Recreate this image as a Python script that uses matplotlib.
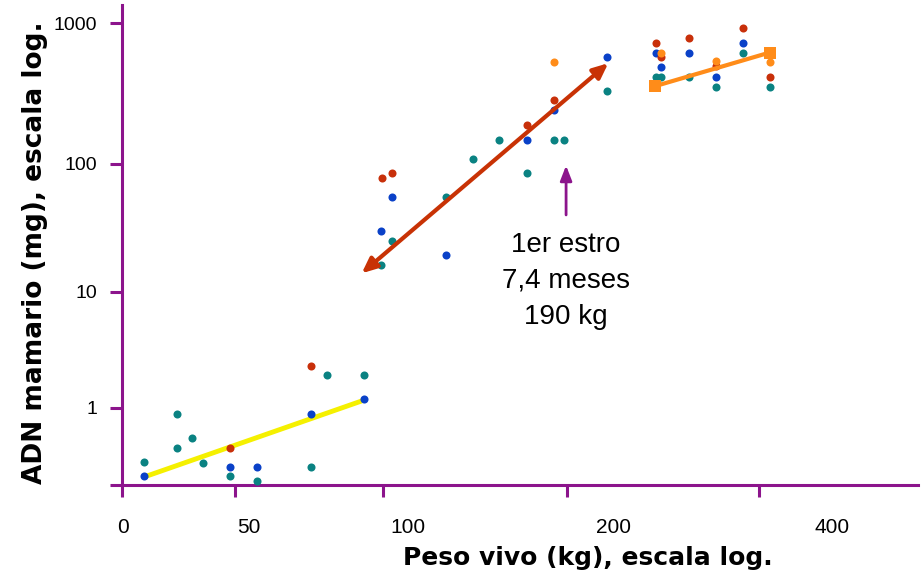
import numpy as np
import matplotlib
matplotlib.use("Agg")
import matplotlib.pyplot as plt
from matplotlib.ticker import NullLocator

# data: peso vivo (kg) vs ADN mamario (mg)
red_x = [47.8, 75.6, 99.5, 104.7, 178.1, 193.1, 293, 298, 327, 355, 383, 411]
red_y = [0.455, 2.32, 77.7, 84.6, 188, 284, 725, 571, 789, 498, 922, 416]

blue_x = [9.7, 47.8, 57.3, 75.6, 93.7, 99.3, 104.9, 134.2, 178.1, 193.1,
          242, 293, 298, 327, 355, 383]
blue_y = [0.259, 0.312, 0.312, 0.887, 1.19, 30, 55, 19.5, 148, 242,
          571, 617, 485, 617, 416, 725]

teal_x = [9.7, 24.2, 24.2, 31.1, 35.7, 47.8, 57.3, 75.6, 81, 93.7, 99.3, 104.9,
          134.2, 148.9, 163.2, 178.1, 193.1, 198.5, 242, 293, 298, 327, 355, 383, 411]
teal_y = [0.344, 0.887, 0.455, 0.548, 0.338, 0.259, 0.233, 0.312, 1.91, 1.91, 16.3, 25.2,
          55.6, 109, 148, 84.6, 148, 148, 330, 416, 416, 416, 353, 617, 353]

orange_x = [193.1, 298, 355, 411]
orange_y = [532, 617, 538, 532]

# trend lines
yellow_x = [10.2, 92.8]
yellow_y = [0.256, 1.15]
redline_x = [92.8, 243]
redline_y = [14.0, 519]
orangeline_x = [292, 411]
orangeline_y = [357, 617]

# first oestrus marker
estro_x = 199.5
estro_y = [40, 97.3]
estro_text = "1er estro\n7,4 meses\n190 kg"

x_ticks = [0, 50, 100, 200, 400]
x_labels = ["0", "50", "100", "200", "400"]
x_label_pos = [0.4, 54.7, 113.5, 248, 476]   # labels sit off the ticks in the original
y_ticks = [1, 10, 100, 1000]
y_labels = ["1", "10", "100", "1000"]

# hand drawn "log" axes: piecewise mapping
x_ref = [0, 50, 100, 200, 400, 800]
x_px = [0, 113, 261, 445, 637, 1021]
y_dec = [-2, 0, 1, 2, 3, 4]
y_px = [-155, 77, 193, 321, 462, 603]


def fx(x):
    return np.interp(x, x_ref, x_px)


def fx_inv(p):
    return np.interp(p, x_px, x_ref)


def fy(y):
    return np.interp(np.log10(np.clip(y, 1e-9, None)), y_dec, y_px)


def fy_inv(p):
    return 10 ** np.interp(p, y_px, y_dec)


purple = "#8c148c"
c_red = "#c8300a"
c_blue = "#0a41c8"
c_teal = "#0a8282"
c_orange = "#ff8c19"

fig = plt.figure(figsize=(9.21, 5.75), dpi=100)
ax = fig.add_axes([122 / 921, 90 / 575, 796 / 921, 480 / 575])

ax.set_xscale("function", functions=(fx, fx_inv))
ax.set_yscale("function", functions=(fy, fy_inv))
ax.set_xlim(0, fx_inv(796))
y_lo = float(fy_inv(0))
ax.set_ylim(y_lo, float(fy_inv(480)))

# points
ms = 5.8
ax.plot(yellow_x, yellow_y, color="#f5f000", lw=3.5, zorder=2, solid_capstyle="butt")
ax.plot(teal_x, teal_y, "o", ms=ms, mew=0, color=c_teal, zorder=3, clip_on=False)
ax.plot(blue_x, blue_y, "o", ms=ms, mew=0, color=c_blue, zorder=3, clip_on=False)
ax.plot(red_x, red_y, "o", ms=ms, mew=0, color=c_red, zorder=3, clip_on=False)
ax.plot(orange_x, orange_y, "o", ms=ms, mew=0, color=c_orange, zorder=3, clip_on=False)

# red arrow line, double headed
ax.annotate("", xy=(redline_x[1], redline_y[1]), xytext=(redline_x[0], redline_y[0]),
            arrowprops=dict(arrowstyle="<|-|>,head_length=0.9,head_width=0.4",
                            color="#c83205", lw=3, shrinkA=0, shrinkB=0),
            zorder=4)

# orange line with squares
ax.plot(orangeline_x, orangeline_y, "-s", color=c_orange, lw=3, ms=8, mew=0, zorder=4)

# purple arrow + text
ax.annotate("", xy=(estro_x, estro_y[1]), xytext=(estro_x, estro_y[0]),
            arrowprops=dict(arrowstyle="-|>,head_length=0.9,head_width=0.35",
                            color=purple, lw=2, shrinkA=0, shrinkB=0))
ax.text(estro_x, 12.2, estro_text, ha="center", va="center", fontsize=20,
        family="Liberation Sans", linespacing=1.5)

# axes style
ax.spines[["top", "right"]].set_visible(False)
for s in ["left", "bottom"]:
    ax.spines[s].set_color(purple)
    ax.spines[s].set_linewidth(2.2)

ax.set_xticks(x_ticks, labels=[""] * len(x_ticks))
ax.set_xticks(x_label_pos, labels=x_labels, minor=True)
ax.set_yticks([y_lo] + y_ticks, labels=[""] + y_labels)
ax.yaxis.set_minor_locator(NullLocator())

ax.tick_params(which="major", direction="out", length=8.6, width=2.2, color=purple)
ax.tick_params(axis="x", which="minor", length=0, pad=24, labelsize=15)
ax.tick_params(axis="y", pad=9.4, labelsize=14)
for lab in ax.get_xticklabels(minor=True) + ax.get_yticklabels():
    lab.set_family("Liberation Sans")

fig.text(588 / 921, 1 - 558 / 575, "Peso vivo (kg), escala log.", ha="center", va="center",
         fontsize=18, fontweight="bold", family="DejaVu Sans")
fig.text(35 / 921, 1 - 253 / 575, "ADN mamario (mg), escala log.", ha="center", va="center",
         rotation=90, fontsize=19, fontweight="bold", family="DejaVu Sans")

fig.savefig("out.png", dpi=100)
